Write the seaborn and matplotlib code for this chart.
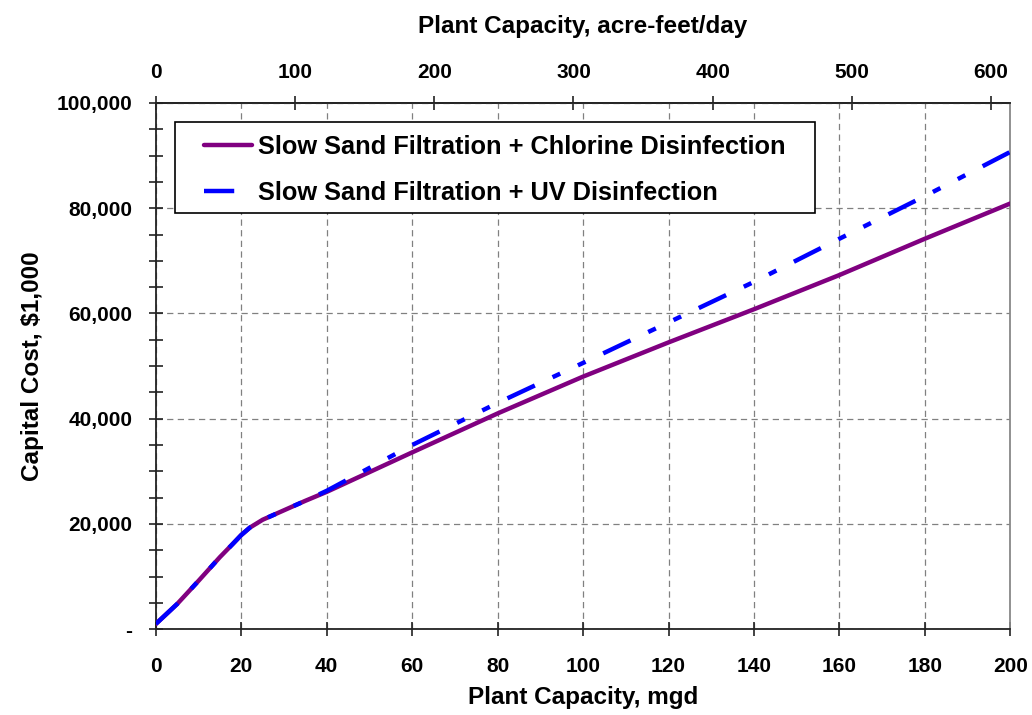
import matplotlib
matplotlib.use("Agg")
import matplotlib.pyplot as plt
import matplotlib.ticker as mticker
from matplotlib.patches import Rectangle
import seaborn as sns
import pandas as pd

# Data
capacity_mgd = [0, 5, 10, 15, 18, 20, 22, 25, 30, 35, 40, 60, 80, 100, 120, 140, 160, 180, 200]
cost_chlorine = [1000, 4800, 9200, 13700, 16200, 17900, 19300, 20800, 22600, 24400, 26100,
                 33600, 41000, 48000, 54500, 60800, 67300, 74200, 80900]
cost_uv = [1000, 4800, 9200, 13700, 16200, 17900, 19300, 20800, 22600, 24400, 26300,
           35000, 43000, 50600, 58300, 66000, 74200, 82300, 90700]
series_names = ["Slow Sand Filtration + Chlorine Disinfection",
                "Slow Sand Filtration + UV Disinfection"]
y_ticks = [0, 20000, 40000, 60000, 80000, 100000]
y_tick_labels = ["-", "20,000", "40,000", "60,000", "80,000", "100,000"]
x_ticks = [0, 20, 40, 60, 80, 100, 120, 140, 160, 180, 200]
top_ticks = [0, 100, 200, 300, 400, 500, 600]
MGD_TO_AFD = 3.0689

df = pd.DataFrame({
    "mgd": capacity_mgd * 2,
    "cost": cost_chlorine + cost_uv,
    "series": [series_names[0]] * len(capacity_mgd) + [series_names[1]] * len(capacity_mgd),
})

sns.set_theme(style="white")
plt.rcParams["font.family"] = ["Liberation Sans", "DejaVu Sans"]
plt.rcParams["font.weight"] = "bold"
for key in ["text.color", "axes.labelcolor", "xtick.labelcolor", "ytick.labelcolor"]:
    plt.rcParams[key] = "black"

fig = plt.figure(figsize=(10.32, 7.15), dpi=100)
ax = fig.add_axes([0.151, 0.12, 0.828, 0.736])

sns.lineplot(data=df[df.series == series_names[0]], x="mgd", y="cost", ax=ax,
             color="#800080", linewidth=3.2, label=series_names[0], zorder=3)
sns.lineplot(data=df[df.series == series_names[1]], x="mgd", y="cost", ax=ax,
             color="#0000FF", linewidth=3.2, label=series_names[1], zorder=4)
ax.lines[1].set_dashes((6.8, 4.4, 1.9, 4.4, 1.9, 4.4))

ax.set_xlim(0, 200)
ax.set_ylim(0, 100000)
ax.set_xticks(x_ticks)
ax.set_yticks(y_ticks)
ax.set_yticklabels(y_tick_labels)
ax.yaxis.set_minor_locator(mticker.MultipleLocator(5000))
ax.grid(True, which="major", color="#808080", linestyle=(0, (5, 3.5)), linewidth=0.9)
ax.grid(False, which="minor")

for s in ax.spines.values():
    s.set_color("#222222")
    s.set_linewidth(1.3)
ax.spines["right"].set_color("#888888")

ax.tick_params(axis="both", which="major", direction="inout", length=10, width=1.2,
               labelsize=15, color="#222222", labelcolor="black")
ax.tick_params(axis="x", which="major", pad=15, bottom=True)
ax.tick_params(axis="y", which="major", pad=12, left=True)
ax.tick_params(axis="y", which="minor", direction="inout", length=10, width=1.2, left=True,
               color="#222222")
for lab in ax.get_xticklabels() + ax.get_yticklabels():
    lab.set_fontweight("bold")

ax.set_xlabel("Plant Capacity, mgd", fontsize=17.5, fontweight="bold", labelpad=7, color="black")
ax.set_ylabel("Capital Cost, \\$1,000", fontsize=17.5, fontweight="bold", labelpad=9, color="black")

top = ax.secondary_xaxis("top", functions=(lambda x: x * MGD_TO_AFD, lambda x: x / MGD_TO_AFD))
top.set_xticks(top_ticks)
top.tick_params(direction="inout", length=10, width=1.2, labelsize=15, color="#222222",
                labelcolor="black", pad=10)
for lab in top.get_xticklabels():
    lab.set_fontweight("bold")
top.set_xlabel("Plant Capacity, acre-feet/day", fontsize=17.5, fontweight="bold", labelpad=22,
               color="black")

# legend box (frame drawn separately to match the reference padding)
ax.add_patch(Rectangle((0.0222, 0.7909), 0.7495, 0.173, transform=ax.transAxes,
                       facecolor="white", edgecolor="black", linewidth=1.2, zorder=5))
leg = ax.legend(loc="upper left", bbox_to_anchor=(0.056, 0.9385), frameon=False,
                prop={"weight": "bold", "size": 18.3}, handlelength=1.89, borderpad=0,
                labelspacing=0.84, handletextpad=0.24, borderaxespad=0)
leg.set_zorder(6)
for t in leg.get_texts():
    t.set_color("black")

fig.savefig("out.png", dpi=100)
